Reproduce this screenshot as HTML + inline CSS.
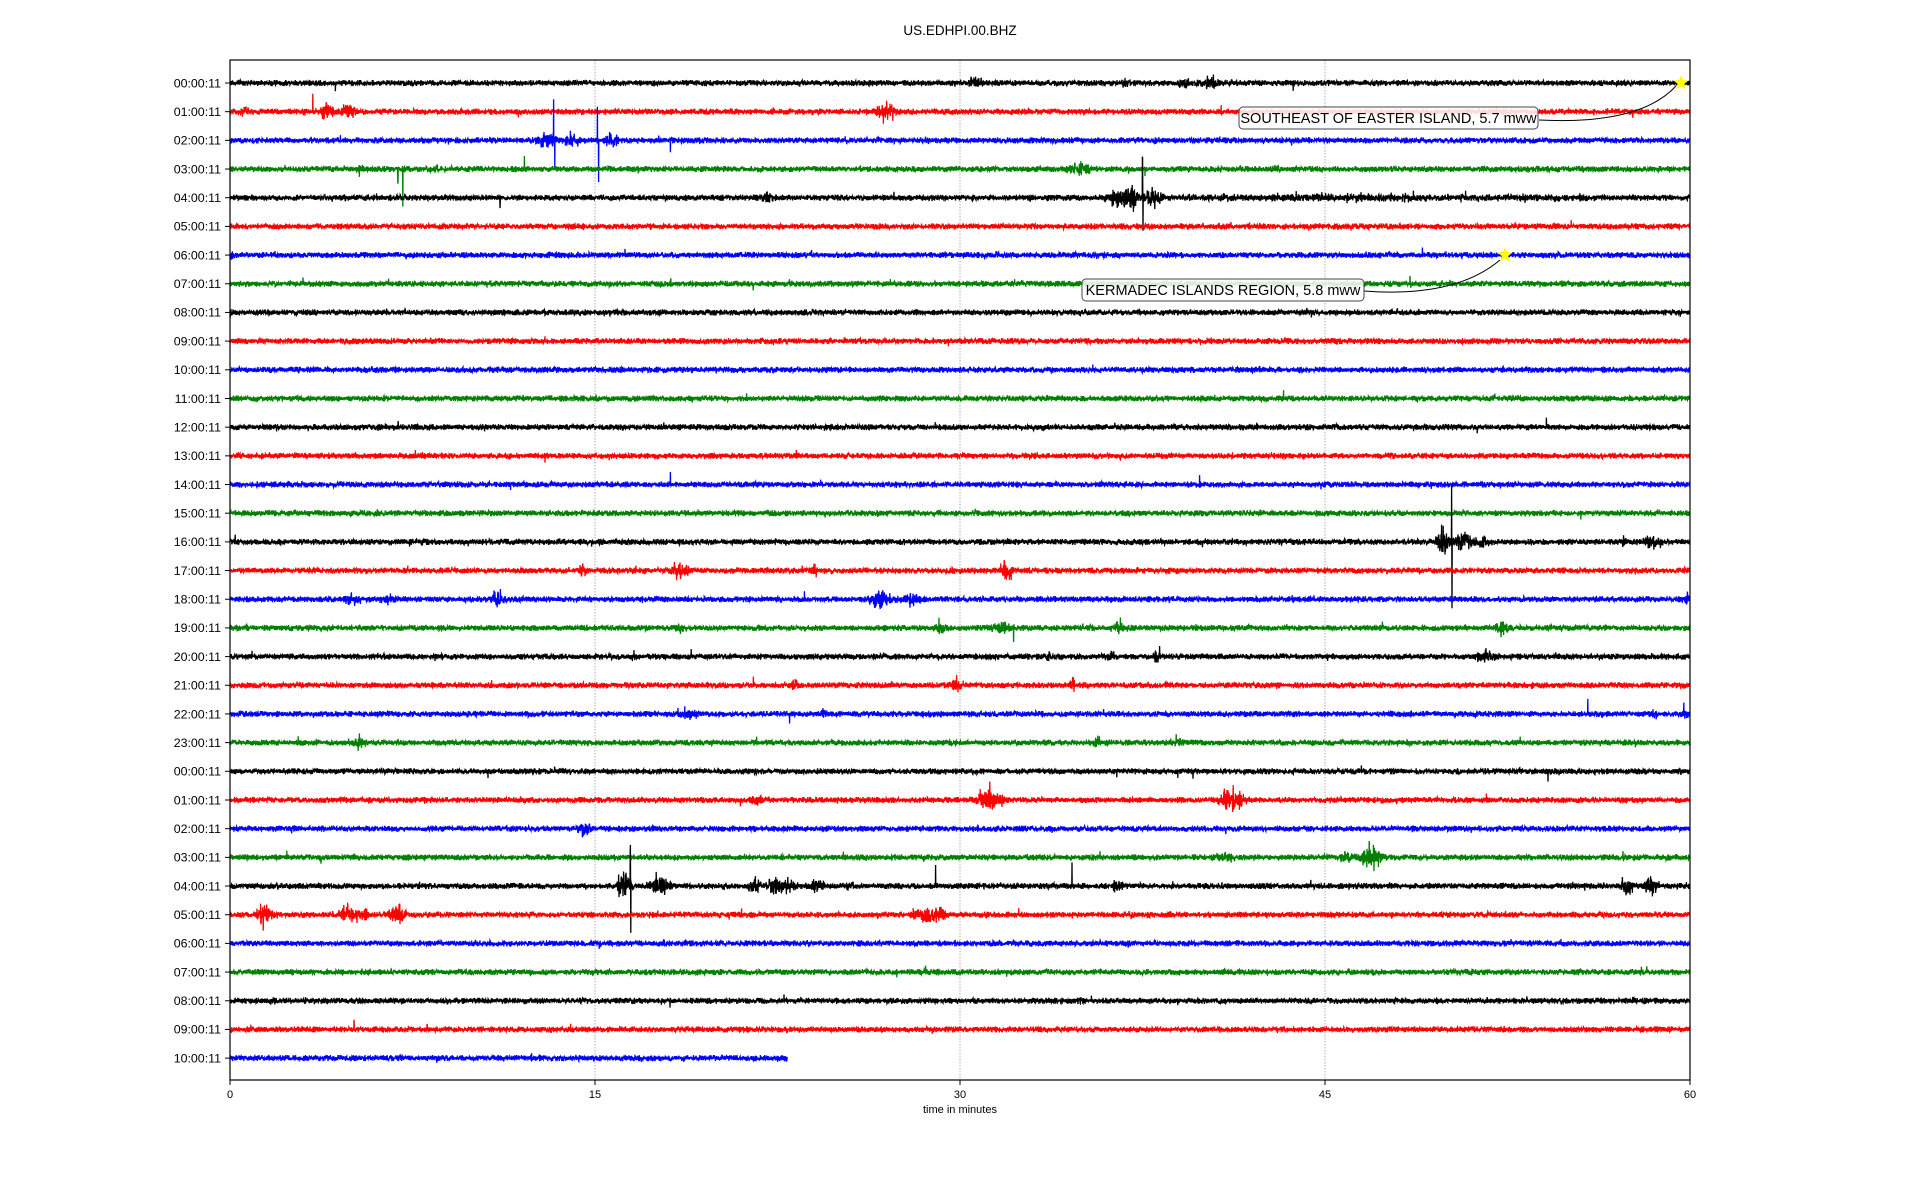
<!DOCTYPE html>
<html><head><meta charset="utf-8"><style>
html,body{margin:0;padding:0;background:#fff;}
svg{display:block;font-family:"Liberation Sans","DejaVu Sans",sans-serif;}
</style></head><body>
<svg id="s" width="1920" height="1200" viewBox="0 0 1920 1200" xmlns="http://www.w3.org/2000/svg">
<rect width="1920" height="1200" fill="#fff"/>
<text x="960" y="35" font-size="13.5" text-anchor="middle">US.EDHPI.00.BHZ</text>
<g id="grid" stroke="#999" stroke-width="0.8" stroke-dasharray="1.5,1.5">
<line x1="595" y1="60" x2="595" y2="1080"/>
<line x1="960" y1="60" x2="960" y2="1080"/>
<line x1="1325" y1="60" x2="1325" y2="1080"/>
</g>
<g id="traces"></g>
<g id="labels" font-size="12.4" text-anchor="end"></g>
<rect x="230" y="60" width="1460" height="1020" fill="none" stroke="#000" stroke-width="1.2"/>
<g stroke="#000" stroke-width="1">
<line x1="230" y1="1080" x2="230" y2="1085"/><line x1="595" y1="1080" x2="595" y2="1085"/>
<line x1="960" y1="1080" x2="960" y2="1085"/><line x1="1325" y1="1080" x2="1325" y2="1085"/>
<line x1="1690" y1="1080" x2="1690" y2="1085"/>
</g>
<g font-size="11" text-anchor="middle">
<text x="230" y="1098">0</text><text x="595" y="1098">15</text><text x="960" y="1098">30</text>
<text x="1325" y="1098">45</text><text x="1690" y="1098">60</text>
<text x="960" y="1113">time in minutes</text>
</g>
<g id="ann">
<path d="M1539,120 Q1640,125 1676,86" fill="none" stroke="#000" stroke-width="1"/>
<rect x="1239" y="107" width="299" height="22" rx="4" fill="#fff" fill-opacity="0.85" stroke="#444"/>
<text x="1388.5" y="123" font-size="14.5" text-anchor="middle">SOUTHEAST OF EASTER ISLAND, 5.7 mww</text>
<path d="M1364,291 Q1455,298 1500,260" fill="none" stroke="#000" stroke-width="1"/>
<rect x="1082" y="279" width="282" height="22" rx="4" fill="#fff" fill-opacity="0.85" stroke="#444"/>
<text x="1223" y="295" font-size="14.5" text-anchor="middle">KERMADEC ISLANDS REGION, 5.8 mww</text>
</g>
<g id="stars" fill="#ffff00"></g>
</svg>
<script>
(function(){
var NS="http://www.w3.org/2000/svg";
var X0=230,X1=1690,ppm=1460/60,Y0=83,DY=28.68;
var cols=["#000000","#ff0000","#0000ff","#008000"];
var seed=12345;function rnd(){seed|=0;seed=seed+0x6D2B79F5|0;var t=Math.imul(seed^seed>>>15,1|seed);t=t+Math.imul(t^t>>>7,61|t)^t;return((t^t>>>14)>>>0)/4294967296;}
function gauss(){var u=rnd()||1e-9,v=rnd();return Math.sqrt(-2*Math.log(u))*Math.cos(2*Math.PI*v);}
var E={
0:[[30.6,5,0.3,'b'],[36.8,5,0.1,'b'],[39.2,6,0.2,'b'],[40.2,7,0.3,'b'],[43.7,5,0.1,'b']],
1:[[3.4,17,0,'s'],[4.0,10,0.2,'b'],[4.9,8,0.25,'b'],[27,10,0.3,'b'],[0.6,4,0.2,'b']],
2:[[13.0,10,0.3,'b'],[13.3,40,0,'s'],[13.35,25,0,'d'],[14,6,0.3,'b'],[15.1,35,0,'s'],[15.15,40,0,'d'],[15.7,9,0.2,'b'],[18.1,10,0,'d']],
3:[[5.3,7,0.1,'b'],[7.1,36,0,'d'],[6.9,14,0,'d'],[12.1,14,0,'s'],[8.5,5,0.1,'b'],[34.9,9,0.3,'b']],
4:[[11.1,9,0,'d'],[22.1,6,0.2,'b'],[36.5,9,0.3,'b'],[37.0,12,0.2,'b'],[37.5,40,0,'s'],[37.52,30,0,'d'],[37.9,10,0.3,'b'],[47,3,6,'b']],
6:[[0.1,4,0.1,'b']],
7:[[3.0,6,0,'s']],
12:[[54.1,9,0,'s']],
14:[[18.1,9,0,'s']],
16:[[49.8,14,0.2,'b'],[50.2,63,0,'s'],[50.22,66,0,'d'],[50.6,10,0.4,'b'],[51.5,6,0.2,'b'],[57.3,7,0.1,'b'],[58.5,9,0.3,'b']],
17:[[14.5,7,0.1,'b'],[18.5,8,0.3,'b'],[24,6,0.1,'b'],[31.9,10,0.2,'b']],
18:[[5,6,0.2,'b'],[6.5,5,0.2,'b'],[11,9,0.2,'b'],[26.7,9,0.3,'b'],[28.0,7,0.3,'b'],[59.9,6,0.1,'b']],
19:[[18.5,7,0.1,'b'],[29.2,7,0.15,'b'],[31.7,8,0.3,'b'],[32.2,15,0,'d'],[36.5,6,0.2,'b'],[52.3,9,0.2,'b']],
20:[[16.6,5,0.1,'b'],[33.6,5,0.1,'b'],[36.2,5,0.2,'b'],[38.2,13,0,'s'],[38.1,8,0.1,'b'],[51.6,6,0.3,'b']],
21:[[23.2,5,0.2,'b'],[29.8,9,0.15,'b'],[34.6,8,0.1,'b']],
22:[[18.9,5,0.3,'b'],[23.0,10,0,'d'],[24.4,5,0.1,'b'],[55.8,14,0,'s'],[58.5,5,0.1,'b'],[59.8,7,0.15,'b']],
23:[[2.8,6,0,'s'],[5.3,6,0.2,'b'],[35.6,7,0.1,'b'],[39,5,0.2,'b']],
24:[[6.8,6,0,'s']],
25:[[21.7,5,0.3,'b'],[31.2,13,0.4,'b'],[41.2,12,0.35,'b']],
26:[[14.6,9,0.2,'b'],[2.6,5,0.1,'b']],
27:[[40.9,6,0.3,'b'],[45.9,6,0.2,'b'],[46.9,13,0.3,'b']],
28:[[16.2,14,0.2,'b'],[16.45,40,0,'s'],[16.47,44,0,'d'],[17.7,12,0.3,'b'],[21.5,7,0.2,'b'],[22.6,10,0.4,'b'],[24.1,9,0.2,'b'],[25.5,5,0.2,'b'],[29.0,20,0,'s'],[34.6,22,0,'s'],[36.5,6,0.2,'b'],[57.4,10,0.2,'b'],[58.4,10,0.2,'b']],
29:[[1.4,11,0.25,'b'],[4.8,8,0.3,'b'],[5.4,8,0.2,'b'],[6.9,10,0.25,'b'],[28.6,9,0.4,'b'],[29.1,10,0.2,'b']],
32:[[35.4,7,0,'s']],
33:[[5.1,7,0,'s'],[8.1,5,0,'s'],[14,6,0,'s']]
};
var g=document.getElementById('traces'),lab=document.getElementById('labels');
for(var i=0;i<35;i++){
 var y=Y0+i*DY;
 var h=(i<24?i:i-24);var hs=(h<10?"0":"")+h+":00:11";
 var t=document.createElementNS(NS,'text');t.setAttribute('x',221);t.setAttribute('y',y+4.3);t.textContent=hs;lab.appendChild(t);
 var tk=document.createElementNS(NS,'line');tk.setAttribute('x1',225);tk.setAttribute('x2',230);tk.setAttribute('y1',y);tk.setAttribute('y2',y);tk.setAttribute('stroke','#000');lab.appendChild(tk);
 var end=(i==34)?X0+22.9*ppm:X1;
 var ev=E[i]||[];
 var d=[];var step=0.2;
 for(var x=X0;x<=end;x+=step){
  var m=(x-X0)/ppm;
  var v=gauss()*1.3;
  if(v>3)v=3;if(v<-3)v=-3;
  if(rnd()<0.004)v+=gauss()*2.5;
  for(var k=0;k<ev.length;k++){
   var e=ev[k];
   if(e[3]=='b'){var dd=(m-e[0])/e[2];if(Math.abs(dd)<3){v+=gauss()*e[1]*0.45*Math.exp(-dd*dd/2);}}
   else if(Math.abs(m-e[0])<step/ppm*0.6){v+=(e[3]=='s'?-e[1]:e[1]);}
  }
  d.push((d.length?"L":"M")+x.toFixed(1)+" "+(y+v).toFixed(1));
 }
 var p=document.createElementNS(NS,'path');p.setAttribute('d',d.join(""));p.setAttribute('fill','none');p.setAttribute('stroke',cols[i%4]);p.setAttribute('stroke-width','1.3');
 g.appendChild(p);
}
function star(cx,cy,r){var s="";for(var k=0;k<10;k++){var a=-Math.PI/2+k*Math.PI/5;var rr=k%2?r*0.42:r;s+=(cx+rr*Math.cos(a)).toFixed(1)+","+(cy+rr*Math.sin(a)).toFixed(1)+" ";}
 var p=document.createElementNS(NS,'polygon');p.setAttribute('points',s);document.getElementById('stars').appendChild(p);}
star(1681,83,8);star(1505,255,8);
})();
</script>
</body></html>
